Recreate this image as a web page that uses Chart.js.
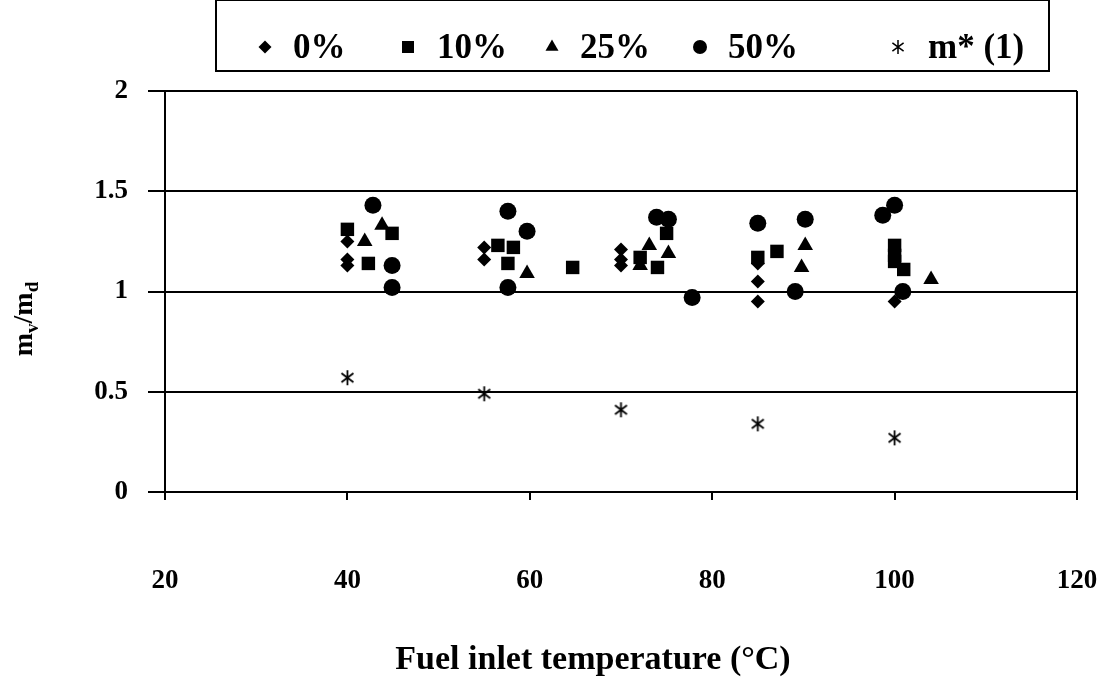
<!DOCTYPE html>
<html>
<head>
<meta charset="utf-8">
<script src="https://cdn.jsdelivr.net/npm/chart.js@4.4.1/dist/chart.umd.min.js"></script>
<style>
  html, body { margin: 0; padding: 0; background: #ffffff; }
  canvas { display: block; }
</style>
</head>
<body>
<canvas id="chart" width="1117" height="691"></canvas>
<script>
// Series labels
const seriesLabels = ['0%', '10%', '25%', '50%', 'm* (1)'];

// 0% series
const temp0  = [40, 40, 40, 55, 55, 70, 70, 70, 85, 85, 85, 100];
const ratio0 = [1.25, 1.16, 1.13, 1.22, 1.16, 1.21, 1.16, 1.13, 1.14, 1.05, 0.95, 0.95];

// 10% series
const temp10  = [40, 42.3, 44.9, 56.5, 58.2, 57.6, 64.7, 72.1, 75, 74, 85, 87.1, 100, 100, 100, 101];
const ratio10 = [1.31, 1.14, 1.29, 1.23, 1.22, 1.14, 1.12, 1.17, 1.29, 1.12, 1.17, 1.20, 1.23, 1.18, 1.15, 1.11];

// 25% series
const temp25  = [41.9, 43.8, 59.7, 72.1, 73.1, 75.2, 90.2, 89.8, 104];
const ratio25 = [1.25, 1.33, 1.09, 1.13, 1.23, 1.19, 1.23, 1.12, 1.06];

// 50% series
const temp50  = [42.8, 44.9, 44.9, 57.6, 59.7, 57.6, 73.9, 75.2, 77.8, 85, 90.2, 89.1, 98.7, 100, 100.9];
const ratio50 = [1.43, 1.13, 1.02, 1.40, 1.30, 1.02, 1.37, 1.36, 0.97, 1.34, 1.36, 1.00, 1.38, 1.43, 1.00];

// m* (1) series
const tempStar  = [40, 55, 70, 85, 100];
const ratioStar = [0.57, 0.49, 0.41, 0.34, 0.27];

// Axis ticks
const xTicks = [20, 40, 60, 80, 100, 120];
const yTicks = [0, 0.5, 1, 1.5, 2];

const xTitle = 'Fuel inlet temperature (°C)';

function pairs(xs, ys) {
  return xs.map((x, i) => ({ x: x, y: ys[i] }));
}

// Asterisk-style marker (vertical stroke plus two diagonals)
function makeStar(size, lw) {
  const c = document.createElement('canvas');
  c.width = size; c.height = size;
  const g = c.getContext('2d');
  g.strokeStyle = '#000';
  g.lineWidth = lw;
  const m = size / 2, r = size / 2 - 1;
  g.beginPath();
  g.moveTo(m, m - r); g.lineTo(m, m + r);
  g.moveTo(m - r * 0.8, m - r * 0.6); g.lineTo(m + r * 0.8, m + r * 0.6);
  g.moveTo(m + r * 0.8, m - r * 0.6); g.lineTo(m - r * 0.8, m + r * 0.6);
  g.stroke();
  return c;
}
const starImg = makeStar(17, 1.8);
const starLegendImg = makeStar(16, 1.5);

const serif = '"Liberation Serif", "Times New Roman", serif';

const styles = [
  { pointStyle: 'rectRot',  radius: 7,   legendRadius: 6.5 },
  { pointStyle: 'rect',     radius: 9.5, legendRadius: 8.5 },
  { pointStyle: 'triangle', radius: 9,   legendRadius: 7.5 },
  { pointStyle: 'circle',   radius: 8.5, legendRadius: 7 },
  { pointStyle: starImg,    radius: 8,   legendRadius: 8, legendImg: starLegendImg }
];

const seriesData = [
  pairs(temp0, ratio0),
  pairs(temp10, ratio10),
  pairs(temp25, ratio25),
  pairs(temp50, ratio50),
  pairs(tempStar, ratioStar)
];

const datasets = seriesData.map((d, i) => ({
  label: seriesLabels[i],
  data: d,
  showLine: false,
  pointStyle: styles[i].pointStyle,
  pointRadius: styles[i].radius,
  pointHoverRadius: styles[i].radius,
  backgroundColor: '#000',
  borderColor: '#000',
  borderWidth: 0
}));

// Legend box, positioned above the plot
const legendLayout = {
  box: { left: 216, top: 0, right: 1049, bottom: 71 },
  y: 47,
  markerX: [265, 408, 552, 700, 898],
  textX: [293, 437, 580, 728, 928]
};

const decorations = {
  id: 'decorations',
  afterDraw(chart) {
    const ctx = chart.ctx;
    ctx.save();

    // legend frame
    const b = legendLayout.box;
    ctx.strokeStyle = '#000';
    ctx.lineWidth = 2;
    ctx.strokeRect(b.left, b.top, b.right - b.left, b.bottom - b.top);

    // legend entries
    ctx.fillStyle = '#000';
    ctx.strokeStyle = '#000';
    ctx.font = 'bold 35px ' + serif;
    ctx.textBaseline = 'middle';
    ctx.textAlign = 'left';
    chart.data.datasets.forEach((ds, i) => {
      const st = styles[i];
      Chart.helpers.drawPoint(ctx, {
        pointStyle: st.legendImg || st.pointStyle,
        radius: st.legendRadius,
        rotation: 0,
        borderWidth: 0
      }, legendLayout.markerX[i], legendLayout.y);
      ctx.fillStyle = '#000';
      ctx.fillText(ds.label, legendLayout.textX[i], legendLayout.y + 2);
    });

    // x axis title
    ctx.font = 'bold 34px ' + serif;
    ctx.textAlign = 'center';
    ctx.textBaseline = 'middle';
    ctx.fillText(xTitle, 593, 660);

    // y axis title: m_v / m_d with subscripts, rotated
    const big = 'bold 28px ' + serif;
    const small = 'bold 19px ' + serif;
    const parts = [
      { t: 'm', f: big, dy: 0 },
      { t: 'v', f: small, dy: 6 },
      { t: '/m', f: big, dy: 0 },
      { t: 'd', f: small, dy: 6 }
    ];
    let total = 0;
    parts.forEach(p => { ctx.font = p.f; p.w = ctx.measureText(p.t).width; total += p.w; });
    ctx.translate(32, 319);
    ctx.rotate(-Math.PI / 2);
    ctx.textAlign = 'left';
    ctx.textBaseline = 'alphabetic';
    let xPos = -total / 2;
    parts.forEach(p => {
      ctx.font = p.f;
      ctx.fillText(p.t, xPos, p.dy);
      xPos += p.w;
    });
    ctx.restore();
  }
};

const whiteBackground = {
  id: 'whiteBackground',
  beforeDraw(chart) {
    const ctx = chart.ctx;
    ctx.save();
    ctx.fillStyle = '#fff';
    ctx.fillRect(0, 0, chart.width, chart.height);
    ctx.restore();
  }
};

new Chart(document.getElementById('chart'), {
  type: 'scatter',
  data: { datasets: datasets },
  options: {
    responsive: false,
    animation: false,
    devicePixelRatio: 1,
    layout: { padding: { left: 0, right: 40, top: 91, bottom: 0 } },
    plugins: {
      legend: { display: false },
      tooltip: { enabled: false },
      title: { display: false }
    },
    scales: {
      x: {
        type: 'linear',
        min: xTicks[0],
        max: xTicks[xTicks.length - 1],
        afterBuildTicks(scale) { scale.ticks = xTicks.map(v => ({ value: v })); },
        afterFit(scale) {
          // the labels sit well below the axis; keep the plot's side margins fixed
          scale.height = 199;
          scale.paddingLeft = 0;
          scale.paddingRight = 0;
        },
        ticks: {
          color: '#000',
          font: { family: serif, size: 27, weight: 'bold' },
          padding: 65,
          maxRotation: 0,
          callback: v => String(v)
        },
        grid: {
          color: ctx => (ctx.index === xTicks.length - 1 ? '#000' : 'rgba(0,0,0,0)'),
          tickColor: '#000',
          lineWidth: 2,
          tickLength: 8,
          drawTicks: true
        },
        border: { display: true, color: '#000', width: 2 }
      },
      y: {
        type: 'linear',
        min: yTicks[0],
        max: yTicks[yTicks.length - 1],
        afterBuildTicks(scale) { scale.ticks = yTicks.map(v => ({ value: v })); },
        afterFit(scale) { scale.width = 165; },
        ticks: {
          color: '#000',
          font: { family: serif, size: 27, weight: 'bold' },
          padding: 20,
          callback: v => String(v)
        },
        grid: {
          color: '#000',
          lineWidth: 2,
          tickLength: 17,
          drawTicks: true
        },
        border: { display: true, color: '#000', width: 2 }
      }
    }
  },
  plugins: [whiteBackground, decorations]
});
</script>
</body>
</html>
